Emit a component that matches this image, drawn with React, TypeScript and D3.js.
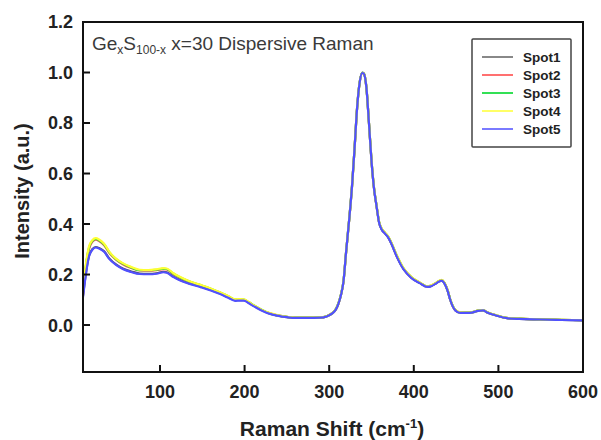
import React from "react";
import * as d3 from "d3";

// Raman shift grid (cm^-1), shared by all spots
const shift = [9,12,16,20,24,28,34,40,48,56,66,76,86,96,104,108,116,124,135,148,160,171,180,189,195,199,205,210,220,230,240,250,260,275,289,297,304,308,311,314,317,320,324,327,330,333,336,339,341,344,347,350,353,356,359,362,366,370,374,380,388,397,407,416,420,425,430,433,436,440,443,449,455,466,476,482,486,498,510,525,550,575,600];

const spot1 = [0.115,0.195,0.272,0.300,0.309,0.305,0.292,0.264,0.240,0.224,
0.212,0.204,0.203,0.205,0.211,0.209,0.192,0.178,0.165,0.152,
0.139,0.125,0.111,0.098,0.099,0.099,0.088,0.078,0.059,0.045,
0.037,0.031,0.028,0.028,0.029,0.034,0.047,0.063,0.086,0.121,
0.176,0.29,0.431,0.552,0.70,0.862,0.961,1.0,0.996,0.94,
0.801,0.65,0.541,0.471,0.406,0.379,0.363,0.346,0.319,0.271,
0.221,0.188,0.167,0.152,0.154,0.163,0.173,0.177,0.167,0.136,
0.101,0.059,0.049,0.048,0.056,0.058,0.051,0.037,0.027,0.024,
0.022,0.02,0.018];

const spot2 = [0.12,0.22,0.30,0.330,0.338,0.333,0.316,0.286,0.259,0.241,
0.226,0.216,0.215,0.217,0.221,0.220,0.201,0.187,0.171,0.157,
0.143,0.128,0.114,0.100,0.101,0.100,0.089,0.079,0.060,0.046,
0.037,0.032,0.029,0.029,0.030,0.035,0.048,0.063,0.086,0.121,
0.175,0.289,0.429,0.549,0.699,0.859,0.959,0.997,0.995,0.939,
0.80,0.651,0.541,0.471,0.407,0.38,0.364,0.347,0.32,0.273,
0.222,0.189,0.168,0.152,0.155,0.164,0.174,0.178,0.168,0.137,
0.101,0.059,0.049,0.049,0.057,0.059,0.052,0.038,0.028,0.025,
0.022,0.021,0.019];

const spot3 = [0.13,0.225,0.305,0.333,0.341,0.336,0.319,0.289,0.261,0.243,
0.228,0.217,0.217,0.219,0.223,0.222,0.203,0.188,0.172,0.158,
0.144,0.129,0.115,0.101,0.102,0.101,0.090,0.080,0.061,0.046,
0.037,0.032,0.029,0.029,0.030,0.035,0.048,0.064,0.087,0.122,
0.176,0.29,0.43,0.55,0.70,0.86,0.96,0.999,0.996,0.94,
0.801,0.652,0.542,0.472,0.408,0.381,0.365,0.348,0.321,0.274,
0.223,0.19,0.168,0.153,0.155,0.164,0.174,0.178,0.168,0.137,
0.102,0.060,0.049,0.049,0.057,0.059,0.052,0.038,0.028,0.025,
0.022,0.021,0.019];

const spot4 = [0.135,0.23,0.31,0.336,0.344,0.339,0.322,0.291,0.263,0.245,
0.230,0.219,0.218,0.221,0.225,0.224,0.205,0.190,0.173,0.159,
0.145,0.130,0.116,0.102,0.103,0.102,0.091,0.080,0.061,0.047,
0.038,0.032,0.029,0.029,0.030,0.035,0.048,0.063,0.086,0.121,
0.175,0.289,0.43,0.55,0.70,0.86,0.96,0.998,0.996,0.941,
0.802,0.652,0.543,0.473,0.409,0.382,0.366,0.349,0.322,0.275,
0.224,0.191,0.169,0.153,0.156,0.165,0.175,0.179,0.169,0.138,
0.102,0.060,0.050,0.049,0.057,0.059,0.052,0.038,0.028,0.025,
0.022,0.021,0.019];

const spot5 = [0.11,0.19,0.27,0.298,0.307,0.303,0.29,0.262,0.238,0.222,
0.21,0.202,0.201,0.203,0.209,0.207,0.19,0.176,0.163,0.15,
0.137,0.123,0.109,0.096,0.097,0.097,0.086,0.076,0.058,0.044,
0.036,0.031,0.028,0.028,0.029,0.034,0.047,0.062,0.085,0.12,
0.175,0.29,0.43,0.55,0.70,0.86,0.96,0.998,0.995,0.94,
0.80,0.65,0.54,0.47,0.405,0.378,0.362,0.345,0.318,0.27,
0.22,0.187,0.166,0.151,0.153,0.162,0.172,0.176,0.166,0.135,
0.1,0.058,0.048,0.048,0.056,0.058,0.051,0.037,0.027,0.024,
0.022,0.02,0.018];

const seriesNames = ["Spot1", "Spot2", "Spot3", "Spot4", "Spot5"];
const seriesValues = [spot1, spot2, spot3, spot4, spot5];
const seriesColors = ["#555555", "#ff5555", "#22dd44", "#ffff33", "#5050ff"];
const legendColors = ["#888888", "#ff7070", "#33e055", "#ffff66", "#7a7aff"];

const xTicks = [100, 200, 300, 400, 500, 600];
const yTicks = [0.0, 0.2, 0.4, 0.6, 0.8, 1.0, 1.2];

const W = 601;
const H = 440;
const plot = { left: 83, right: 583, top: 22, bottom: 372 };

export default function App() {
  const x = d3.scaleLinear().domain([9, 600]).range([plot.left, plot.right]);
  const y = d3.scaleLinear().domain([-0.186, 1.2]).range([plot.bottom, plot.top]);

  const line = d3
    .line<number>()
    .x((_, i) => x(shift[i]))
    .y((v) => y(v))
    .curve(d3.curveMonotoneX);

  const font = "'Liberation Sans', Arial, sans-serif";
  const tickLen = 7;

  return (
    <svg
      width={W}
      height={H}
      style={{ position: "absolute", left: 0, top: 0, background: "#fff" }}
      fontFamily={font}
    >
      <defs>
        <clipPath id="plotClip">
          <rect x={plot.left} y={plot.top} width={plot.right - plot.left} height={plot.bottom - plot.top} />
        </clipPath>
      </defs>

      {/* spectra */}
      <g clipPath="url(#plotClip)" fill="none" strokeLinejoin="round">
        {seriesValues.map((vals, i) => (
          <path key={seriesNames[i]} d={line(vals) || ""} stroke={seriesColors[i]} strokeWidth={2.2} />
        ))}
      </g>

      {/* frame */}
      <rect
        x={plot.left}
        y={plot.top}
        width={plot.right - plot.left}
        height={plot.bottom - plot.top}
        fill="none"
        stroke="#111"
        strokeWidth={2}
      />

      {/* y axis ticks and labels */}
      {yTicks.map((t) => (
        <g key={"y" + t}>
          <line x1={plot.left} x2={plot.left + tickLen} y1={y(t)} y2={y(t)} stroke="#111" strokeWidth={2} />
          <text
            x={plot.left - 10}
            y={y(t)}
            dy="0.36em"
            textAnchor="end"
            fontSize={18}
            fontWeight="bold"
            fill="#222"
          >
            {d3.format(".1f")(t)}
          </text>
        </g>
      ))}

      {/* x axis ticks and labels */}
      {xTicks.map((t) => (
        <g key={"x" + t}>
          <line x1={x(t)} x2={x(t)} y1={plot.bottom} y2={plot.bottom - tickLen} stroke="#111" strokeWidth={2} />
          <text x={x(t)} y={398} textAnchor="middle" fontSize={18} fontWeight="bold" fill="#222">
            {t}
          </text>
        </g>
      ))}

      {/* axis titles */}
      <text
        transform={`translate(29, 191) rotate(-90)`}
        textAnchor="middle"
        fontSize={20}
        fontWeight="bold"
        fill="#222"
      >
        Intensity (a.u.)
      </text>
      <text x={332} y={436} textAnchor="middle" fontSize={21} fontWeight="bold" fill="#222">
        Raman Shift (cm
        <tspan fontSize={13} dy={-8}>-1</tspan>
        <tspan dy={8}>)</tspan>
      </text>

      {/* sample title */}
      <text x={92} y={50} fontSize={19} fill="#3a3a3a">
        Ge
        <tspan fontSize={12} dy={4}>x</tspan>
        <tspan dy={-4}>S</tspan>
        <tspan fontSize={12} dy={4}>100-x</tspan>
        <tspan dy={-4}> x=30 Dispersive Raman</tspan>
      </text>

      {/* legend */}
      <rect x={472} y={39} width={99} height={108} fill="#fff" stroke="#444" strokeWidth={1.5} rx={1} />
      {seriesNames.map((name, i) => {
        const ly = 57 + i * 18;
        return (
          <g key={"lg" + name}>
            <line x1={482} x2={513} y1={ly} y2={ly} stroke={legendColors[i]} strokeWidth={2} />
            <text x={523} y={ly} dy="0.36em" fontSize={13.5} fontWeight="bold" fill="#222">
              {name}
            </text>
          </g>
        );
      })}
    </svg>
  );
}
